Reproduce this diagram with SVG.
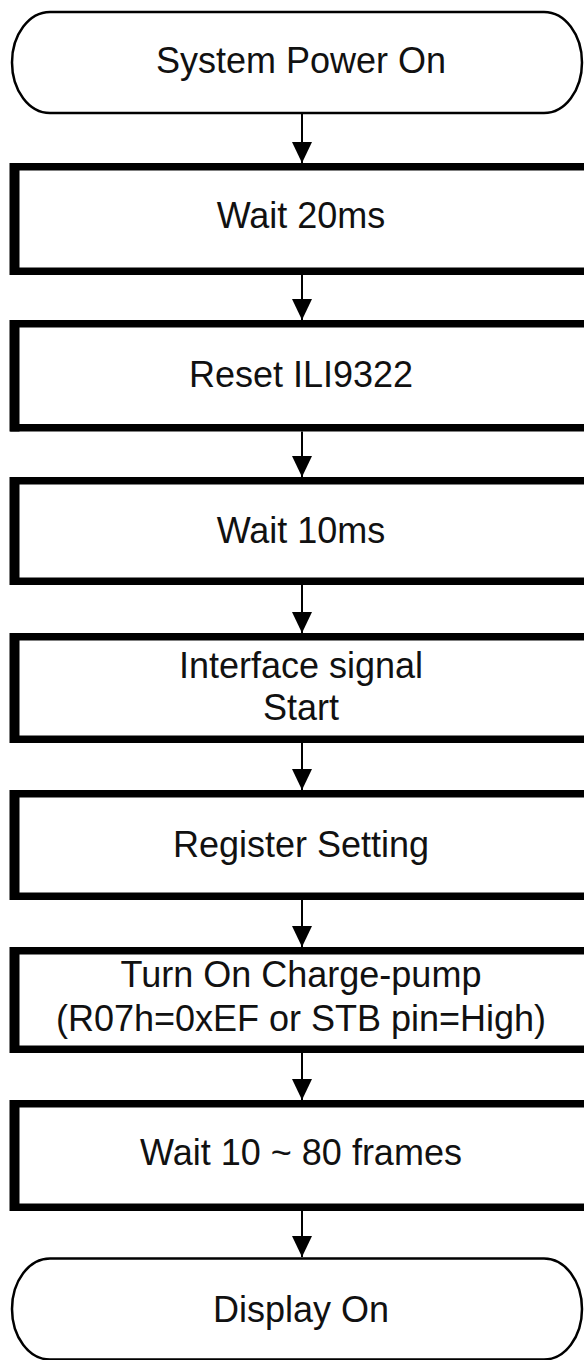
<svg xmlns="http://www.w3.org/2000/svg" width="584" height="1360" viewBox="0 0 584 1360">
<style>
.term{fill:#fff;stroke:#000;stroke-width:2.5}
.box{fill:#fff;stroke:#000;stroke-width:7.5}
.ledge{stroke:#000;stroke-width:10;fill:none}
.lbl{font-family:"Liberation Sans",Arial,Helvetica,sans-serif;font-size:36px;fill:#111;text-anchor:middle}
.conn{stroke:#000;stroke-width:2;fill:none;marker-end:url(#ah)}
</style>
<defs>
<marker id="ah" viewBox="0 0 21 20" refX="21" refY="10" markerWidth="21" markerHeight="20" markerUnits="userSpaceOnUse" orient="auto">
<path d="M0,0 L21,10 L0,20 z" fill="#000"/>
</marker>
</defs>
<rect width="584" height="1360" fill="#fff"/>
<g id="connectors">
<line class="conn" x1="302" y1="113.5" x2="302" y2="163"/>
<line class="conn" x1="302" y1="275" x2="302" y2="320"/>
<line class="conn" x1="302" y1="431.5" x2="302" y2="477"/>
<line class="conn" x1="302" y1="585" x2="302" y2="633"/>
<line class="conn" x1="302" y1="743" x2="302" y2="790"/>
<line class="conn" x1="302" y1="900" x2="302" y2="947"/>
<line class="conn" x1="302" y1="1053" x2="302" y2="1100"/>
<line class="conn" x1="302" y1="1211" x2="302" y2="1257"/>
</g>
<g id="n1">
<rect class="term" x="12" y="12" width="570" height="101" rx="38" ry="50.5"/>
<text class="lbl" x="301" y="73">System Power On</text>
</g>
<g id="n2">
<rect class="box" x="14" y="166.75" width="590" height="104.5"/>
<line class="ledge" x1="14.5" y1="163" x2="14.5" y2="275"/>
<text class="lbl" x="301" y="228">Wait 20ms</text>
</g>
<g id="n3">
<rect class="box" x="14" y="323.75" width="590" height="104"/>
<line class="ledge" x1="14.5" y1="320" x2="14.5" y2="431.5"/>
<text class="lbl" x="301" y="387">Reset ILI9322</text>
</g>
<g id="n4">
<rect class="box" x="14" y="480.75" width="590" height="100.5"/>
<line class="ledge" x1="14.5" y1="477" x2="14.5" y2="585"/>
<text class="lbl" x="301" y="543">Wait 10ms</text>
</g>
<g id="n5">
<rect class="box" x="14" y="636.75" width="590" height="102.5"/>
<line class="ledge" x1="14.5" y1="633" x2="14.5" y2="743"/>
<text class="lbl" x="301" y="678">Interface signal</text>
<text class="lbl" x="301" y="720">Start</text>
</g>
<g id="n6">
<rect class="box" x="14" y="793.75" width="590" height="102.5"/>
<line class="ledge" x1="14.5" y1="790" x2="14.5" y2="900"/>
<text class="lbl" x="301" y="857">Register Setting</text>
</g>
<g id="n7">
<rect class="box" x="14" y="950.75" width="590" height="98.5"/>
<line class="ledge" x1="14.5" y1="947" x2="14.5" y2="1053"/>
<text class="lbl" x="301" y="987">Turn On Charge-pump</text>
<text class="lbl" x="301" y="1031">(R07h=0xEF or STB pin=High)</text>
</g>
<g id="n8">
<rect class="box" x="14" y="1103.75" width="590" height="103.5"/>
<line class="ledge" x1="14.5" y1="1100" x2="14.5" y2="1211"/>
<text class="lbl" x="301" y="1165">Wait 10 ~ 80 frames</text>
</g>
<g id="n9">
<rect class="term" x="12" y="1258.5" width="570" height="101" rx="38" ry="50.5"/>
<text class="lbl" x="301" y="1322">Display On</text>
</g>
</svg>
